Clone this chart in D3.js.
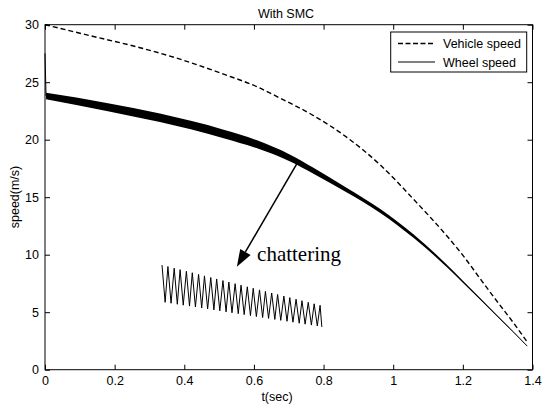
<!DOCTYPE html>
<html lang="en">
  <head>
    <meta charset="utf-8">
    <title>With SMC</title>
    <style>
      body { margin: 0; background: #fff; }
      text { font-family: "Liberation Sans", Arial, Helvetica, sans-serif; }
    </style>
  </head>
  <body>
    <div class="graph"></div>

    <script src="https://d3js.org/d3.v7.min.js"></script>
    <script>
      // vehicle speed (dashed)
      var vehicleT = [0, 0.129, 0.273, 0.388, 0.513, 0.609, 0.676, 0.771, 0.867, 0.963, 1.059, 1.155, 1.2025, 1.25, 1.298, 1.346, 1.385];
      var vehicleV = [30, 29.05, 28.0, 27.0, 25.7, 24.6, 23.6, 22.1, 20.2, 17.8, 14.8, 11.6, 9.85, 7.9, 5.95, 4.05, 2.4];

      // wheel speed (solid) and the half width of its chattering band
      var wheelT = [0, 0.003, 0.177, 0.33, 0.513, 0.609, 0.704, 0.771, 0.867, 0.963, 1.059, 1.155, 1.2, 1.25, 1.298, 1.346, 1.385];
      var wheelV = [27.5, 23.8, 22.85, 21.9, 20.5, 19.6, 18.4, 17.3, 15.6, 13.8, 11.6, 9.0, 7.65, 6.15, 4.7, 3.25, 2.05];
      var wheelBand = [0, 0.28, 0.35, 0.37, 0.37, 0.35, 0.30, 0.26, 0.20, 0.17, 0.15, 0.11, 0.09, 0.065, 0.043, 0.02, 0];

      // magnified chattering trace
      var zigT = [0.336, 0.345, 0.353, 0.362, 0.371, 0.380, 0.388, 0.397, 0.406, 0.415,
                  0.423, 0.432, 0.441, 0.450, 0.458, 0.467, 0.476, 0.485, 0.493, 0.502,
                  0.511, 0.520, 0.528, 0.537, 0.546, 0.555, 0.563, 0.572, 0.581, 0.590,
                  0.598, 0.607, 0.616, 0.625, 0.633, 0.642, 0.651, 0.660, 0.668, 0.677,
                  0.686, 0.695, 0.703, 0.712, 0.721, 0.730, 0.738, 0.747, 0.756, 0.765,
                  0.773, 0.782, 0.790, 0.795];
      var zigV = [9.10, 5.86, 8.97, 5.78, 8.83, 5.69, 8.70, 5.61, 8.56, 5.53,
                  8.43, 5.45, 8.29, 5.36, 8.16, 5.28, 8.02, 5.20, 7.89, 5.12,
                  7.75, 5.03, 7.62, 4.95, 7.48, 4.87, 7.35, 4.79, 7.21, 4.70,
                  7.08, 4.62, 6.94, 4.54, 6.81, 4.46, 6.67, 4.37, 6.54, 4.29,
                  6.40, 4.21, 6.27, 4.13, 6.13, 4.04, 6.00, 3.96, 5.86, 3.88,
                  5.73, 3.80, 5.60, 3.72];

      // arrow (from, to) and label, in data units
      var arrowT = [0.726, 0.551];
      var arrowV = [18.06, 8.96];
      var noteT = 0.609, noteV = 9.45;

      var xTicks = [0, 0.2, 0.4, 0.6, 0.8, 1, 1.2, 1.4];
      var yTicks = [0, 5, 10, 15, 20, 25, 30];
      var legendLabels = ['Vehicle speed', 'Wheel speed'];

      var width = 543, height = 405;
      var margin = {top: 24.7, right: 10.5, bottom: 35.3, left: 45};

      var svg = d3.select('.graph')
                  .append('svg')
                  .attr('width', width)
                  .attr('height', height);
      svg.append('rect').attr('width', width).attr('height', height).attr('fill', '#fff');

      var x = d3.scaleLinear().domain([0, 1.4]).range([margin.left, width - margin.right]);
      var y = d3.scaleLinear().domain([0, 30]).range([height - margin.bottom, margin.top]);

      var vehicle = vehicleT.map(function(t, i) { return [t, vehicleV[i]]; });
      var wheel = wheelT.map(function(t, i) { return [t, wheelV[i], wheelBand[i]]; });
      var zig = zigT.map(function(t, i) { return [t, zigV[i]]; });

      var line = d3.line()
                   .x(function(d) { return x(d[0]); })
                   .y(function(d) { return y(d[1]); })
                   .curve(d3.curveMonotoneX);
      var straight = d3.line()
                       .x(function(d) { return x(d[0]); })
                       .y(function(d) { return y(d[1]); });

      var band = d3.area()
                   .x(function(d) { return x(d[0]); })
                   .y0(function(d) { return y(d[1] - d[2]); })
                   .y1(function(d) { return y(d[1] + d[2]); })
                   .curve(d3.curveMonotoneX);

      // curves: the start-up spike of the wheel is a straight drop, the rest is smooth
      svg.append('path').datum(wheel.slice(1)).attr('d', band).attr('fill', '#000');
      svg.append('path').datum(wheel.slice(0, 2)).attr('d', straight)
         .attr('fill', 'none').attr('stroke', '#000').attr('stroke-width', 1);
      svg.append('path').datum(wheel.slice(1)).attr('d', line)
         .attr('fill', 'none').attr('stroke', '#000').attr('stroke-width', 1);
      svg.append('path').datum(vehicle).attr('d', line)
         .attr('fill', 'none').attr('stroke', '#000').attr('stroke-width', 1.4)
         .attr('stroke-dasharray', '5,3');

      // zig-zag inset
      svg.append('path').datum(zig).attr('d', straight)
         .attr('fill', 'none').attr('stroke', '#000').attr('stroke-width', 1);

      // arrow
      var x1 = x(arrowT[0]), y1 = y(arrowV[0]), x2 = x(arrowT[1]), y2 = y(arrowV[1]);
      var ang = Math.atan2(y2 - y1, x2 - x1);
      var headLen = 17, headHalf = 6;
      var bx = x2 - headLen * Math.cos(ang), by = y2 - headLen * Math.sin(ang);
      svg.append('line')
         .attr('x1', x1).attr('y1', y1).attr('x2', bx).attr('y2', by)
         .attr('stroke', '#000').attr('stroke-width', 1.5);
      svg.append('path')
         .attr('d', 'M' + x2 + ',' + y2 +
                    'L' + (bx + headHalf * Math.sin(ang)) + ',' + (by - headHalf * Math.cos(ang)) +
                    'L' + (bx - headHalf * Math.sin(ang)) + ',' + (by + headHalf * Math.cos(ang)) + 'Z')
         .attr('fill', '#000');
      svg.append('text')
         .attr('x', x(noteT)).attr('y', y(noteV))
         .style('font-family', '"Liberation Serif", "Times New Roman", serif')
         .style('font-size', '21px')
         .text('chattering');

      // axes box with inward ticks
      var x0 = x.range()[0], xe = x.range()[1], yb = y.range()[0], yt = y.range()[1];
      svg.append('rect')
         .attr('x', x0).attr('y', yt).attr('width', xe - x0).attr('height', yb - yt)
         .attr('fill', 'none').attr('stroke', '#000').attr('stroke-width', 1);

      var tl = 5;
      svg.append('g').attr('transform', 'translate(0,' + yb + ')')
         .call(d3.axisBottom(x).tickValues(xTicks).tickSizeInner(-tl).tickSizeOuter(0).tickPadding(6)
               .tickFormat(function(d) { return d3.format('')(d); }));
      svg.append('g').attr('transform', 'translate(0,' + yt + ')')
         .call(d3.axisTop(x).tickValues(xTicks).tickSizeInner(-tl).tickSizeOuter(0).tickFormat(''));
      svg.append('g').attr('transform', 'translate(' + x0 + ',0)')
         .call(d3.axisLeft(y).tickValues(yTicks).tickSizeInner(-tl).tickSizeOuter(0).tickPadding(6));
      svg.append('g').attr('transform', 'translate(' + xe + ',0)')
         .call(d3.axisRight(y).tickValues(yTicks).tickSizeInner(-tl).tickSizeOuter(0).tickFormat(''));
      svg.selectAll('.domain').remove();
      svg.selectAll('.tick line').attr('stroke', '#000');
      svg.selectAll('.tick text')
         .attr('fill', '#000')
         .style('font-family', '"Liberation Sans", Arial, sans-serif')
         .style('font-size', '12.5px');

      // titles
      svg.append('text').attr('x', 286).attr('y', 17.5).attr('text-anchor', 'middle')
         .style('font-size', '12.5px').text('With SMC');
      svg.append('text').attr('x', 277).attr('y', 401).attr('text-anchor', 'middle')
         .style('font-size', '12.5px').text('t(sec)');
      svg.append('text')
         .attr('transform', 'translate(19,197) rotate(-90)')
         .attr('text-anchor', 'middle')
         .style('font-size', '12.5px').text('speed(m/s)');

      // legend
      var lg = svg.append('g');
      lg.append('rect').attr('x', 390.7).attr('y', 32).attr('width', 136).attr('height', 40)
        .attr('fill', '#fff').attr('stroke', '#000').attr('stroke-width', 1);
      var rows = lg.selectAll('g.row').data(legendLabels).enter().append('g')
                   .attr('class', 'row')
                   .attr('transform', function(d, i) { return 'translate(0,' + (43.5 + i * 18.5) + ')'; });
      rows.append('line').attr('x1', 398).attr('x2', 435).attr('y1', 0).attr('y2', 0)
          .attr('stroke', '#000')
          .attr('stroke-width', function(d, i) { return i === 0 ? 1.4 : 1; })
          .attr('stroke-dasharray', function(d, i) { return i === 0 ? '5,2.5' : null; });
      rows.append('text').attr('x', 443).attr('y', 4.5)
          .style('font-size', '12.5px').text(function(d) { return d; });
    </script>
  </body>
</html>
